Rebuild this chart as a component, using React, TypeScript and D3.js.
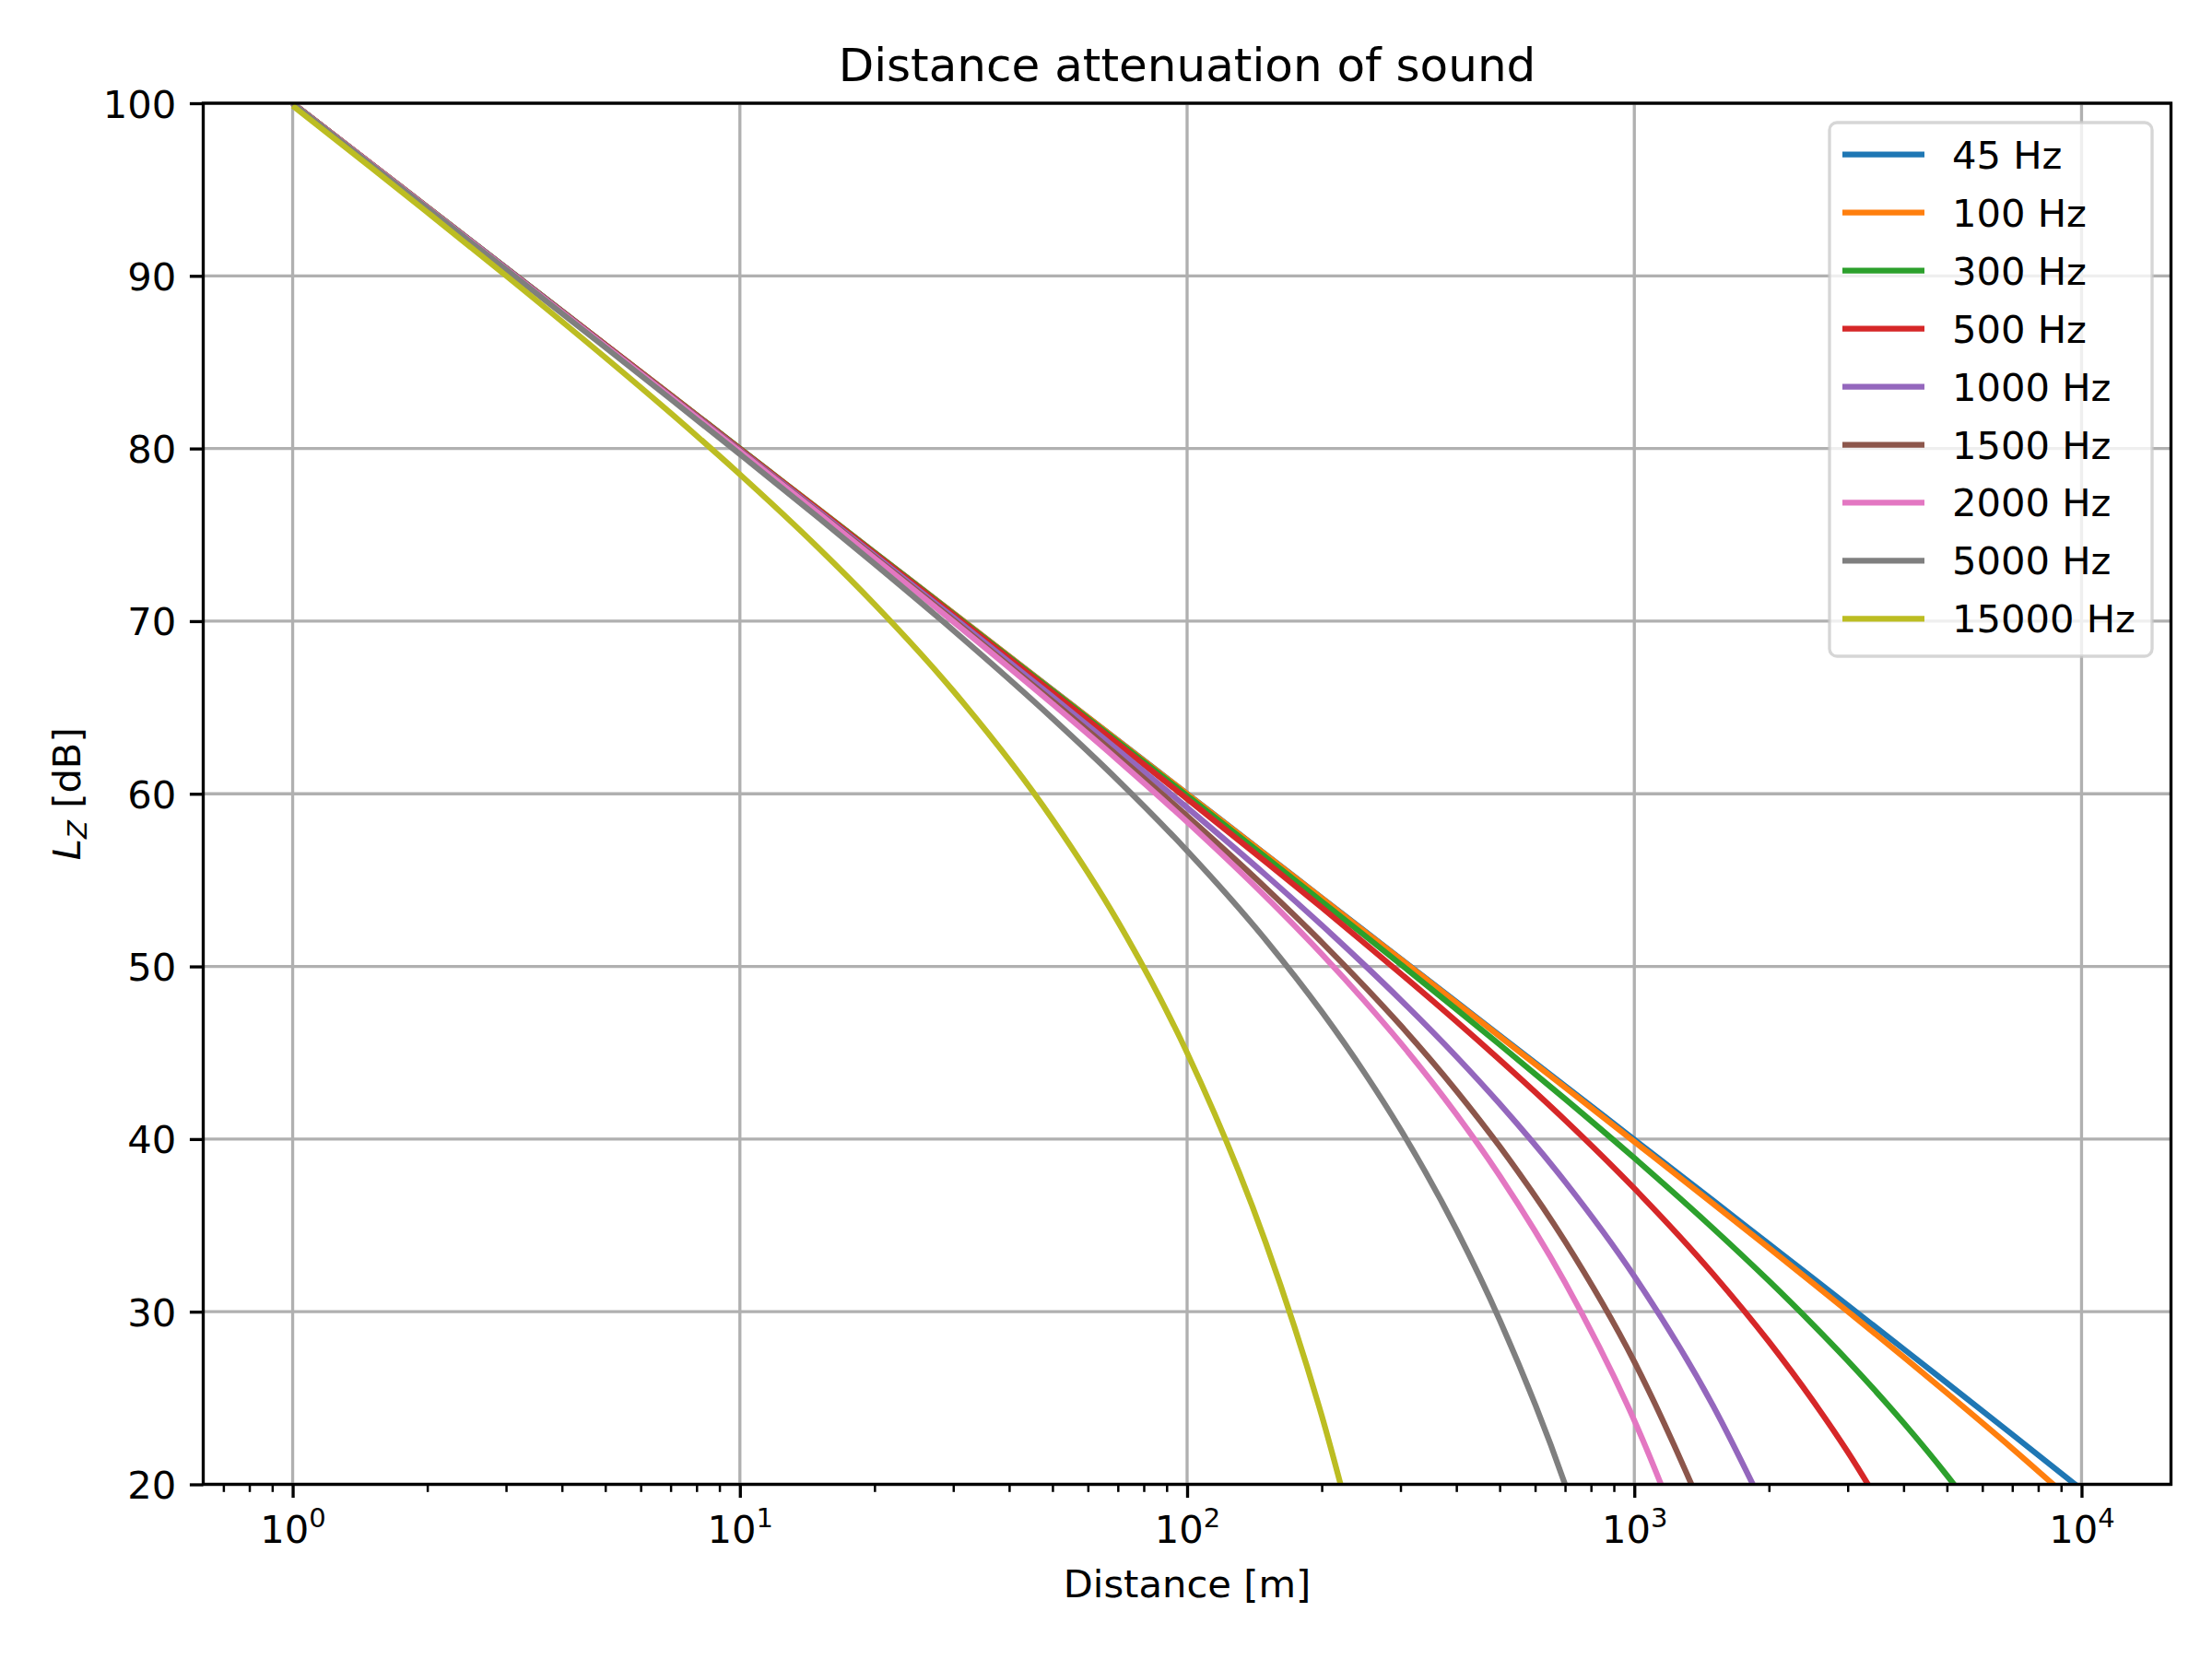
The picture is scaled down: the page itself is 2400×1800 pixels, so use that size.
import * as d3 from "d3";
import React, { useEffect, useRef } from "react";

// Distance samples [m], shared by all curves
const distances = [
  1, 1.5, 2, 3, 5, 7, 10, 15, 20, 30, 50, 70, 100, 150, 200, 250, 300, 400,
  500, 700, 1000, 1500, 2000, 2500, 3000, 4000, 5000, 7000, 10000,
];

// Sound level [dB] per frequency.
// Each list stops at the first sample below the 20 dB floor.
const level45 = [
  100, 96.48, 93.98, 90.46, 86.02, 83.1, 80.0, 76.48, 73.98, 70.46, 66.02,
  63.1, 60.0, 56.48, 53.97, 52.03, 50.45, 47.95, 46.0, 43.08, 39.97, 36.44,
  33.92, 31.97, 30.37, 27.84, 25.87, 22.89, 19.7,
];
const level100 = [
  100, 96.48, 93.98, 90.46, 86.02, 83.1, 80.0, 76.48, 73.98, 70.46, 66.01,
  63.09, 59.99, 56.46, 53.95, 52.0, 50.42, 47.9, 45.95, 43.0, 39.85, 36.26,
  33.69, 31.68, 30.02, 27.38, 25.29, 22.08, 18.54,
];
const level300 = [
  100, 96.48, 93.98, 90.46, 86.01, 83.09, 79.99, 76.46, 73.96, 70.43, 65.97,
  63.02, 59.89, 56.32, 53.76, 51.77, 50.13, 47.52, 45.47, 42.33, 38.9, 34.83,
  31.78, 29.29, 27.16, 23.56, 20.52, 15.4,
];
const level500 = [
  100, 96.48, 93.97, 90.45, 86.01, 83.08, 79.97, 76.44, 73.92, 70.37, 65.88,
  62.9, 59.71, 56.05, 53.41, 51.32, 49.6, 46.82, 44.59, 41.1, 37.14, 32.19,
  28.26, 24.89, 21.88, 16.52,
];
const level1000 = [
  99.99, 96.47, 93.96, 90.44, 85.98, 83.04, 79.92, 76.36, 73.82, 70.22, 65.62,
  62.54, 59.2, 55.29, 52.39, 50.05, 48.07, 44.78, 42.04, 37.53, 32.05, 24.55,
  18.08,
];
const level1500 = [
  99.99, 96.46, 93.95, 90.42, 85.96, 83.01, 79.87, 76.29, 73.72, 70.07, 65.37,
  62.2, 58.71, 54.54, 51.4, 48.81, 46.59, 42.8, 39.57, 34.07, 27.1, 17.13,
];
const level2000 = [
  99.98, 96.46, 93.95, 90.41, 85.94, 82.99, 79.84, 76.24, 73.65, 69.97, 65.21,
  61.96, 58.37, 54.03, 50.72, 47.96, 45.57, 41.44, 37.87, 31.69, 23.7, 12.03,
];
const level5000 = [
  99.97, 96.43, 93.91, 90.36, 85.86, 82.87, 79.67, 75.99, 73.32, 69.47, 64.37,
  60.79, 56.7, 51.53, 47.38, 43.79, 40.56, 34.76, 29.52, 20.0, 7.0,
];
const level15000 = [
  99.85, 96.26, 93.68, 90.01, 85.27, 82.05, 78.5, 74.23, 70.98, 65.96, 58.52,
  52.6, 45.0, 33.98, 23.98, 14.54,
];

const labels = [
  "45 Hz", "100 Hz", "300 Hz", "500 Hz", "1000 Hz",
  "1500 Hz", "2000 Hz", "5000 Hz", "15000 Hz",
];
const levels = [
  level45, level100, level300, level500, level1000,
  level1500, level2000, level5000, level15000,
];
const colors = [
  "#1f77b4", "#ff7f0e", "#2ca02c", "#d62728", "#9467bd",
  "#8c564b", "#e377c2", "#7f7f7f", "#bcbd22",
];

const xTicks = [1, 10, 100, 1000, 10000];
const yTicks = [20, 30, 40, 50, 60, 70, 80, 90, 100];

const FONT = "DejaVu Sans";

const App: React.FC = () => {
  const ref = useRef<SVGSVGElement>(null);

  useEffect(() => {
    if (!ref.current) return;
    document.body.style.margin = "0";

    const svg = d3.select(ref.current);
    svg.selectAll("*").remove();

    const width = 2400;
    const height = 1800;
    const left = 220.5, right = 2355.5, top = 112, bottom = 1610.5;
    const lw = 3.33; // 0.8pt at 300 dpi

    svg.attr("width", width).attr("height", height);
    svg.append("rect").attr("width", width).attr("height", height).attr("fill", "white");

    const x = d3.scaleLog().domain([10 ** -0.2, 10 ** 4.2]).range([left, right]);
    const y = d3.scaleLinear().domain([20, 100]).range([bottom, top]);

    // grid
    const grid = svg.append("g").attr("stroke", "#b0b0b0").attr("stroke-width", lw);
    grid.selectAll(".vg").data(xTicks).enter().append("line")
      .attr("x1", d => x(d)).attr("x2", d => x(d))
      .attr("y1", top).attr("y2", bottom);
    grid.selectAll(".hg").data(yTicks).enter().append("line")
      .attr("x1", left).attr("x2", right)
      .attr("y1", d => y(d)).attr("y2", d => y(d));

    // curves
    svg.append("clipPath").attr("id", "plot-clip")
      .append("rect").attr("x", left).attr("y", top)
      .attr("width", right - left).attr("height", bottom - top);

    const line = d3.line<[number, number]>()
      .x(d => x(d[0]))
      .y(d => y(d[1]))
      .curve(d3.curveMonotoneX);

    const curves = svg.append("g").attr("clip-path", "url(#plot-clip)");
    levels.forEach((lv, i) => {
      const pts = lv.map((v, j) => [distances[j], v] as [number, number]);
      curves.append("path")
        .attr("d", line(pts))
        .attr("fill", "none")
        .attr("stroke", colors[i])
        .attr("stroke-width", 6.25)
        .attr("stroke-linejoin", "round");
    });

    // frame
    svg.append("rect")
      .attr("x", left).attr("y", top)
      .attr("width", right - left).attr("height", bottom - top)
      .attr("fill", "none").attr("stroke", "black").attr("stroke-width", lw);

    // y axis
    const yAxis = svg.append("g")
      .attr("transform", `translate(${left},0)`)
      .call(d3.axisLeft(y).tickValues(yTicks).tickSize(14.6).tickPadding(14.6).tickSizeOuter(0));
    yAxis.select(".domain").remove();
    yAxis.selectAll("line").attr("stroke", "black").attr("stroke-width", lw);
    yAxis.selectAll("text")
      .attr("font-family", FONT).attr("font-size", 41.67)
      .attr("fill", "black").attr("dy", 15);

    // x axis, minor ticks
    const minor: number[] = [];
    for (let e = -1; e <= 4; e++) {
      for (let m = 2; m <= 9; m++) {
        const v = m * 10 ** e;
        if (v >= x.domain()[0] && v <= x.domain()[1]) minor.push(v);
      }
    }
    const xMinor = svg.append("g")
      .attr("transform", `translate(0,${bottom})`)
      .call(d3.axisBottom(x).tickValues(minor).tickSize(8.3).tickFormat(() => "").tickSizeOuter(0));
    xMinor.select(".domain").remove();
    xMinor.selectAll("line").attr("stroke", "black").attr("stroke-width", 2.5);

    // x axis, major ticks with 10^n labels
    const xAxis = svg.append("g")
      .attr("transform", `translate(0,${bottom})`)
      .call(d3.axisBottom(x).tickValues(xTicks).tickSize(14.6).tickFormat(() => "").tickSizeOuter(0));
    xAxis.select(".domain").remove();
    xAxis.selectAll("line").attr("stroke", "black").attr("stroke-width", lw);
    xAxis.selectAll<SVGTextElement, number>("text").each(function (d) {
      const t = d3.select(this)
        .attr("y", 63.5).attr("dy", null)
        .attr("font-family", FONT).attr("font-size", 41.67)
        .attr("fill", "black").attr("text-anchor", "middle");
      t.append("tspan").text("10");
      t.append("tspan").attr("dy", -17).attr("font-size", 29)
        .text(String(Math.round(Math.log10(d))));
    });

    // title and axis labels
    svg.append("text")
      .attr("x", (left + right) / 2).attr("y", 88)
      .attr("text-anchor", "middle")
      .attr("font-family", FONT).attr("font-size", 50)
      .text("Distance attenuation of sound");

    svg.append("text")
      .attr("x", (left + right) / 2).attr("y", 1733)
      .attr("text-anchor", "middle")
      .attr("font-family", FONT).attr("font-size", 41.67)
      .text("Distance [m]");

    const yl = svg.append("text")
      .attr("transform", `translate(87,${(top + bottom) / 2}) rotate(-90)`)
      .attr("text-anchor", "middle")
      .attr("font-family", FONT).attr("font-size", 41.67);
    yl.append("tspan").attr("font-style", "italic").text("L");
    yl.append("tspan").attr("font-style", "italic").attr("font-size", 29).attr("dy", 7).text("Z");
    yl.append("tspan").attr("dy", -7).text(" [dB]");

    // legend
    const lg = svg.append("g");
    lg.append("rect")
      .attr("x", 1985).attr("y", 133).attr("width", 350).attr("height", 579)
      .attr("rx", 8)
      .attr("fill", "white").attr("fill-opacity", 0.8)
      .attr("stroke", "#cccccc").attr("stroke-opacity", 0.8).attr("stroke-width", lw);
    const rows = lg.selectAll(".row").data(labels).enter().append("g")
      .attr("transform", (_, i) => `translate(0,${167.6 + i * 62.98})`);
    rows.append("line")
      .attr("x1", 1999).attr("x2", 2088)
      .attr("stroke", (_, i) => colors[i]).attr("stroke-width", 6.25);
    rows.append("text")
      .attr("x", 2118).attr("y", 15)
      .attr("font-family", FONT).attr("font-size", 41.67)
      .text(d => d);
  }, []);

  return <svg ref={ref} style={{ display: "block" }}></svg>;
};

export default App;
